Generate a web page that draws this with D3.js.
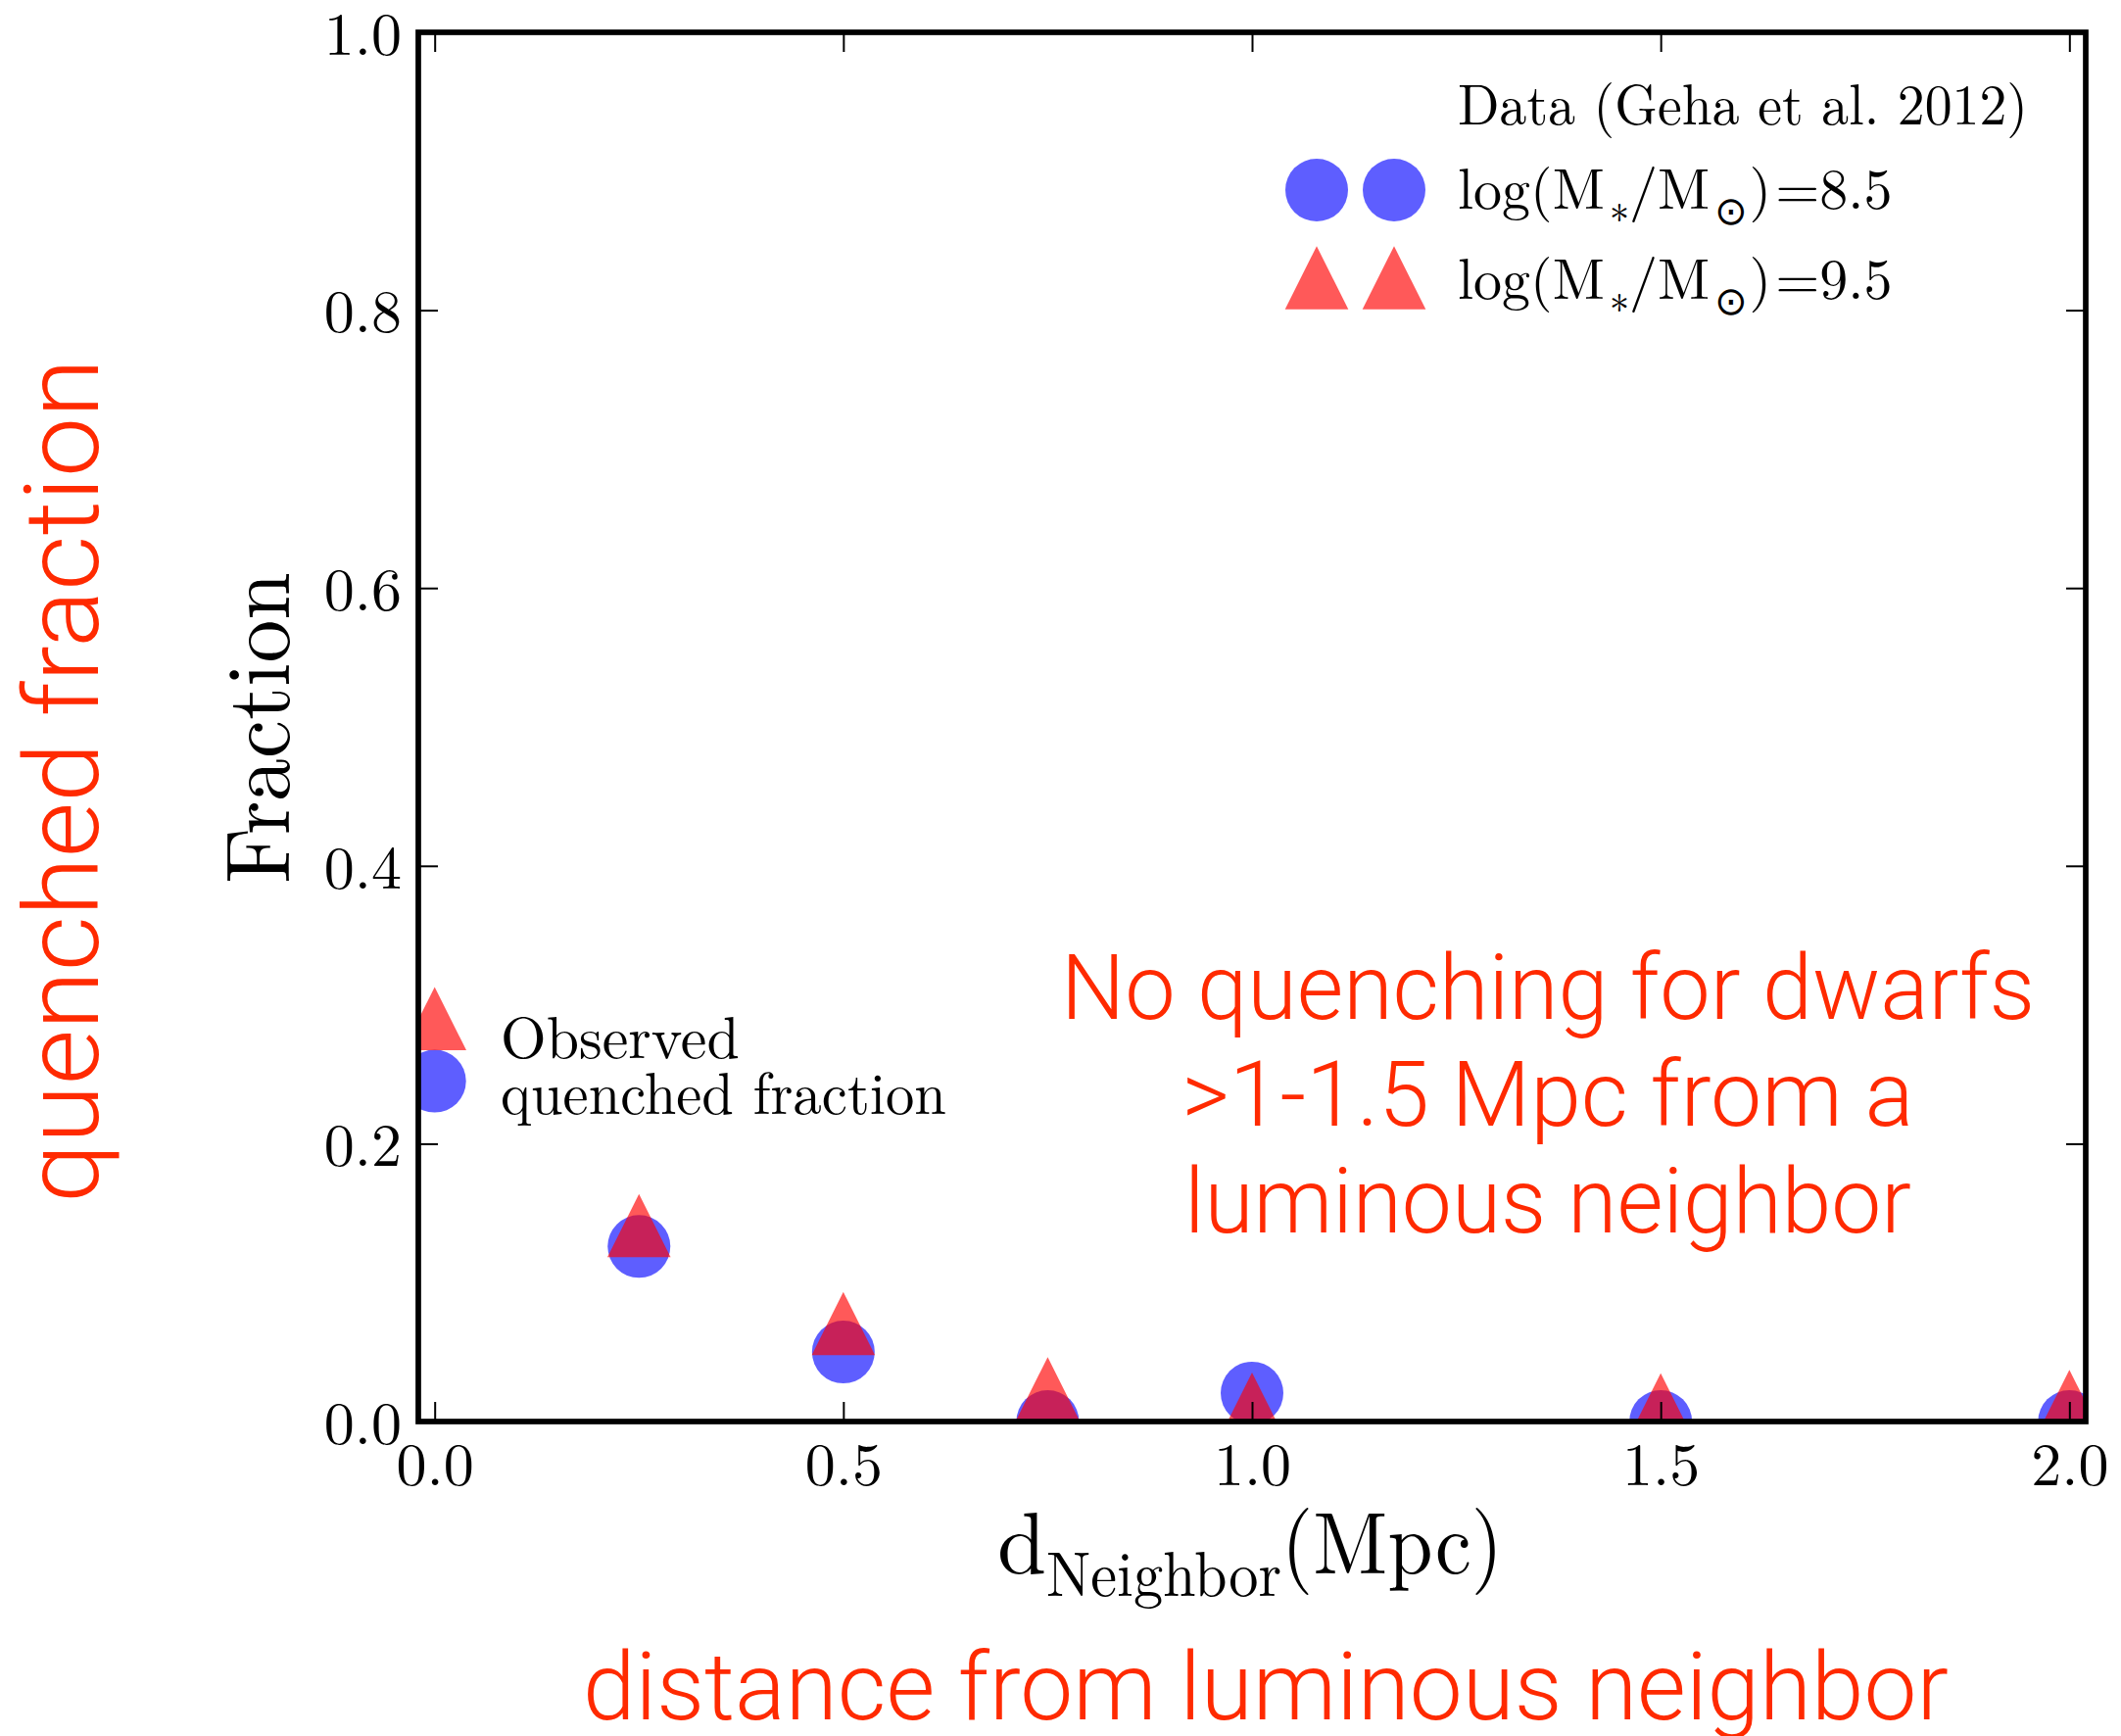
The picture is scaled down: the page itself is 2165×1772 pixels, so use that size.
<!DOCTYPE html>
<html>
<head>
<meta charset="utf-8">
<script src="https://cdn.jsdelivr.net/npm/d3@7"></script>
<style>
  html, body { margin: 0; padding: 0; background: #ffffff; }
  svg { display: block; }
</style>
</head>
<body>
<svg id="chart" width="2165" height="1772"></svg>
<script>
// Distance to the nearest luminous neighbour (Mpc)
const distances = [0, 0.25, 0.5, 0.75, 1.0, 1.5, 2.0];
// Quenched fraction, log(M*/Msun) = 8.5
const fracLow = [0.245, 0.126, 0.050, 0.0, 0.0205, 0.0, 0.0];
// Quenched fraction, log(M*/Msun) = 9.5
const fracHigh = [0.29, 0.141, 0.0705, 0.0236, 0.0125, 0.012, 0.0145];

const xTicks = [0, 0.5, 1.0, 1.5, 2.0];
const yTicks = [0, 0.2, 0.4, 0.6, 0.8, 1.0];
const xDomain = [-0.02, 2.02];
const yDomain = [0, 1];

const noteLines = ["No quenching for dwarfs", ">1-1.5 Mpc from a", "luminous neighbor"];

const svg = d3.select("#chart");
const plot = { left: 427, right: 2129, top: 33, bottom: 1451 };

const x = d3.scaleLinear().domain(xDomain).range([plot.left, plot.right]);
const y = d3.scaleLinear().domain(yDomain).range([plot.bottom, plot.top]);

const serif = "'Latin Modern Roman', 'CMU Serif', 'Liberation Serif', 'Times New Roman', serif";
const sans = "'Helvetica Neue', Roboto, 'Liberation Sans', Arial, sans-serif";
const red = "#ff2a00";

// triangle marker in the matplotlib '^' style: bbox centred on the point
const triangleUp = {
  draw(ctx, size) {
    const h = Math.sqrt(size) / 2;
    ctx.moveTo(0, -h);
    ctx.lineTo(h, h);
    ctx.lineTo(-h, h);
    ctx.closePath();
  }
};
const R = 32;
const circleSym = d3.symbol().type(d3.symbolCircle).size(Math.PI * R * R);
const triSym = d3.symbol().type(triangleUp).size((2 * 32.3) ** 2);

svg.append("defs").append("clipPath").attr("id", "plotclip")
  .append("rect")
  .attr("x", plot.left).attr("y", plot.top)
  .attr("width", plot.right - plot.left).attr("height", plot.bottom - plot.top);

const pts = distances.map((d, i) => ({ d, lo: fracLow[i], hi: fracHigh[i] }));

const marks = svg.append("g").attr("clip-path", "url(#plotclip)");
marks.selectAll("path.lo").data(pts).join("path")
  .attr("class", "lo")
  .attr("d", circleSym)
  .attr("transform", p => `translate(${x(p.d)},${y(p.lo)})`)
  .attr("fill", "#0000ff").attr("fill-opacity", 0.63);
marks.selectAll("path.hi").data(pts).join("path")
  .attr("class", "hi")
  .attr("d", triSym)
  .attr("transform", p => `translate(${x(p.d)},${y(p.hi)})`)
  .attr("fill", "#ff0000").attr("fill-opacity", 0.65);

// axes: inward ticks on all four sides, labels bottom/left
const tickLen = 20;
function styleAxis(g, withLabels) {
  g.select(".domain").remove();
  g.selectAll(".tick line").attr("stroke", "#000").attr("stroke-width", 2);
  g.selectAll(".tick text")
    .attr("fill", "#000")
    .style("font-family", serif)
    .style("font-size", "62px");
  if (!withLabels) g.selectAll(".tick text").remove();
}

svg.append("g").attr("transform", `translate(0,${plot.bottom})`)
  .call(d3.axisBottom(x).tickValues(xTicks).tickFormat(d3.format(".1f"))
    .tickSizeInner(-tickLen).tickSizeOuter(0).tickPadding(21))
  .call(g => styleAxis(g, true))
  .call(g => g.selectAll(".tick text").attr("dy", "0.71em"));

svg.append("g").attr("transform", `translate(0,${plot.top})`)
  .call(d3.axisTop(x).tickValues(xTicks).tickSizeInner(-tickLen).tickSizeOuter(0))
  .call(g => styleAxis(g, false));

svg.append("g").attr("transform", `translate(${plot.left},0)`)
  .call(d3.axisLeft(y).tickValues(yTicks).tickFormat(d3.format(".1f"))
    .tickSizeInner(-tickLen).tickSizeOuter(0).tickPadding(17))
  .call(g => styleAxis(g, true))
  .call(g => g.selectAll(".tick text").attr("dy", "0.36em"));

svg.append("g").attr("transform", `translate(${plot.right},0)`)
  .call(d3.axisRight(y).tickValues(yTicks).tickSizeInner(-tickLen).tickSizeOuter(0))
  .call(g => styleAxis(g, false));

// frame
svg.append("rect")
  .attr("x", plot.left).attr("y", plot.top)
  .attr("width", plot.right - plot.left).attr("height", plot.bottom - plot.top)
  .attr("fill", "none").attr("stroke", "#000").attr("stroke-width", 5.7);

// x-axis label  d_Neighbor(Mpc)
const xl = svg.append("text")
  .attr("x", 1018).attr("y", 1606)
  .style("font-family", serif).style("font-size", "90px").attr("fill", "#000");
xl.append("tspan").text("d");
xl.append("tspan").attr("dy", 23).style("font-size", "64px")
  .attr("textLength", 240).attr("lengthAdjust", "spacingAndGlyphs").text("Neighbor");
xl.append("tspan").attr("dy", -23)
  .attr("textLength", 226).attr("lengthAdjust", "spacingAndGlyphs").text("(Mpc)");

// y-axis label
svg.append("text")
  .attr("transform", "translate(295,743) rotate(-90)")
  .attr("text-anchor", "middle")
  .style("font-family", serif).style("font-size", "92px").attr("fill", "#000")
  .attr("textLength", 318).attr("lengthAdjust", "spacingAndGlyphs")
  .text("Fraction");

// legend, upper right
const leg = svg.append("g");
leg.append("text")
  .attr("x", 1488).attr("y", 127)
  .style("font-family", serif).style("font-size", "58px").attr("fill", "#000")
  .attr("textLength", 582).attr("lengthAdjust", "spacingAndGlyphs")
  .text("Data (Geha et al. 2012)");

const legendRows = [
  { sym: circleSym, fill: "#0000ff", op: 0.63, cy: 194, base: 213, val: "8.5" },
  { sym: triSym, fill: "#ff0000", op: 0.65, cy: 283.5, base: 305, val: "9.5" }
];
legendRows.forEach(r => {
  [1344, 1423].forEach(cx => {
    leg.append("path").attr("d", r.sym())
      .attr("transform", `translate(${cx},${r.cy})`)
      .attr("fill", r.fill).attr("fill-opacity", r.op);
  });
  const t = leg.append("text")
    .attr("x", 1488).attr("y", r.base)
    .style("font-family", serif).style("font-size", "58px").attr("fill", "#000");
  t.append("tspan").text("log(M");
  t.append("tspan").attr("dy", 14).attr("dx", 5).style("font-size", "40px").text("∗");
  t.append("tspan").attr("dy", -14).text("/M");
  t.append("tspan").attr("dy", 16).attr("dx", 5).style("font-size", "40px")
    .style("font-family", "'DejaVu Sans', sans-serif").text("⊙");
  t.append("tspan").attr("dy", -16).attr("dx", 2).text(")");
  t.append("tspan").attr("dx", 4).text("=" + r.val);
});

// note next to the clipped points at d = 0
const obs = svg.append("text")
  .style("font-family", serif).style("font-size", "60px").attr("fill", "#000");
obs.append("tspan").attr("x", 511).attr("y", 1080).text("Observed");
obs.append("tspan").attr("x", 511).attr("y", 1137)
  .attr("textLength", 455).attr("lengthAdjust", "spacingAndGlyphs")
  .text("quenched fraction");

// red annotations
const redText = (sel) => sel
  .style("font-family", sans).style("font-weight", 300)
  .attr("fill", red).attr("lengthAdjust", "spacingAndGlyphs");

const noteWidths = [994, 747, 742];
const noteBase = [1040, 1149, 1258];
noteLines.forEach((line, i) => {
  svg.append("text")
    .attr("x", 1580).attr("y", noteBase[i])
    .attr("text-anchor", "middle")
    .call(redText)
    .style("font-size", "93px")
    .attr("textLength", noteWidths[i])
    .text(line);
});

svg.append("text")
  .attr("transform", "translate(100,797) rotate(-90)")
  .attr("text-anchor", "middle")
  .call(redText)
  .style("font-size", "106px")
  .attr("textLength", 862)
  .text("quenched fraction");

svg.append("text")
  .attr("x", 1292).attr("y", 1755)
  .attr("text-anchor", "middle")
  .call(redText)
  .style("font-size", "97px")
  .attr("textLength", 1394)
  .text("distance from luminous neighbor");
</script>
</body>
</html>
